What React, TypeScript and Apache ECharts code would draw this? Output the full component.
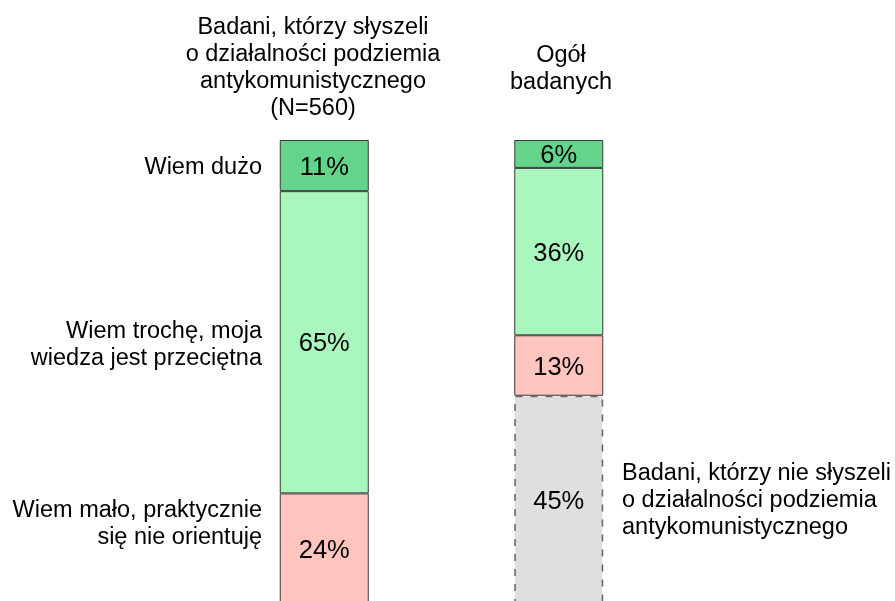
import React, { useEffect, useRef } from "react";
import * as echarts from "echarts";

const bars = ["Badani, którzy słyszeli o działalności podziemia antykomunistycznego (N=560)", "Ogół badanych"];
const seriesNames = ["Nie słyszeli", "Wiem mało, praktycznie się nie orientuję", "Wiem trochę, moja wiedza jest przeciętna", "Wiem dużo"];
const notHeard: (number | string)[] = ["-", 45];
const knowLittle = [24, 13];
const knowSome = [65, 36];
const knowMuch = [11, 6];
const colors = ["#dfdfdf", "#ffc5be", "#a9f7be", "#63d48a"];

const leftTitle = "Badani, którzy słyszeli\no działalności podziemia\nantykomunistycznego\n(N=560)";
const rightTitle = "Ogół\nbadanych";
const catLabels = ["Wiem dużo", "Wiem trochę, moja\nwiedza jest przeciętna", "Wiem mało, praktycznie\nsię nie orientuję"];
const noteLabel = "Badani, którzy nie słyszeli\no działalności podziemia\nantykomunistycznego";

const FONT = "Liberation Sans, Arial, sans-serif";

export default function App() {
  const ref = useRef<HTMLDivElement>(null);
  useEffect(() => {
    if (!ref.current) return;
    const chart = echarts.init(ref.current, null, { renderer: "svg" });
    const data = [notHeard, knowLittle, knowSome, knowMuch];
    const txt = (text: string, x: number, y: number, align: string, size = 23.5) => ({
      type: "text",
      x,
      y,
      style: {
        text,
        fill: "#000",
        fontSize: size,
        fontFamily: FONT,
        textAlign: align,
        textVerticalAlign: "middle",
        lineHeight: 27,
      },
    });
    chart.setOption({
      animation: false,
      grid: { left: 207, width: 469, top: 140, height: 465, containLabel: false, outerBoundsMode: "none" },
      xAxis: { type: "category", data: bars, show: false },
      yAxis: { type: "value", min: 0, max: 100, show: false },
      series: data.map((d, i) => ({
        name: seriesNames[i],
        type: "bar",
        stack: "total",
        barWidth: 89,
        data: d,
        itemStyle: {
          color: colors[i],
          borderColor: i === 0 ? "#6a6a6a" : "#3a3a3a",
          borderWidth: i === 0 ? 1.6 : 1,
          borderType: i === 0 ? [7, 8] : "solid",
        },
        label: {
          show: true,
          position: "inside",
          formatter: "{c}%",
          fontSize: 25.5,
          fontFamily: FONT,
          color: "#000",
        },
      })),
      graphic: [
        txt(leftTitle, 313, 66, "center"),
        txt(rightTitle, 561, 67, "center"),
        txt(catLabels[0], 262, 166, "right"),
        txt(catLabels[1], 262, 343, "right"),
        txt(catLabels[2], 262, 522, "right"),
        txt(noteLabel, 622, 499, "left"),
      ],
    });
    return () => chart.dispose();
  }, []);
  return <div ref={ref} style={{ position: "fixed", left: 0, top: 0, width: 895, height: 612 }} />;
}
